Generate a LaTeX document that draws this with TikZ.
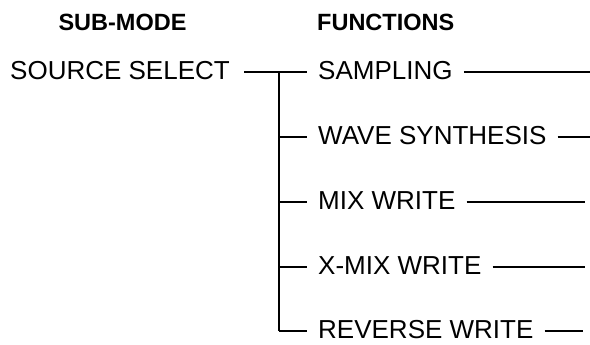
\documentclass[tikz,border=0pt]{standalone}
\usepackage{fontspec}
\setmainfont{Liberation Sans}
\usepackage{tikz}
\usetikzlibrary{positioning,calc}

\begin{document}
\begin{tikzpicture}[x=1pt,y=-1pt,
    lbl/.style={inner sep=0pt,anchor=west,font=\fontsize{26}{30}\selectfont},
    hdr/.style={inner sep=0pt,font=\bfseries\fontsize{23.5}{27}\selectfont},
    ln/.style={line width=1.6pt}
  ]
    \useasboundingbox (0,0) rectangle (590,345);
    \node[hdr] (submode) at (122.5,22) {SUB-MODE};
    \node[hdr,anchor=west] (functions) at (317,22) {FUNCTIONS};
    \node[lbl] (src) at (10,71) {SOURCE SELECT};
    \coordinate (jt) at (279,72);
    \coordinate (jb) at (279,331);
    \foreach \i/\y/\txt/\ex in {1/72/SAMPLING/590,2/137/WAVE SYNTHESIS/590,3/202/MIX WRITE/585,4/267/X-MIX WRITE/585,5/331/REVERSE WRITE/583}{
      \node[lbl] (f\i) at (318,\y-1) {\txt};
      \coordinate (e\i) at (\ex,\y);
      \draw[ln] (jt |- e\i) -- ([xshift=-11pt]f\i.west |- e\i);
      \draw[ln] ([xshift=11pt]f\i.east |- e\i) -- (e\i);
    }
    \draw[ln] ([xshift=14pt]src.east |- jt) -- (jt);
    \draw[ln] (jt) -- (jb);
  \end{tikzpicture}
\end{document}
